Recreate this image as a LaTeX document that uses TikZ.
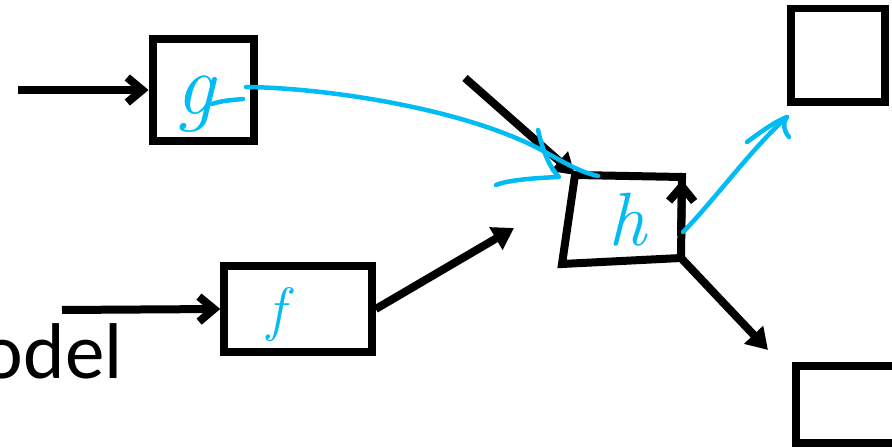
\documentclass[tikz,border=0pt]{standalone}
\usepackage{fontspec}
\usetikzlibrary{arrows.meta}
\definecolor{pen}{RGB}{0,187,244}
\newfontfamily\slidefont{Carlito}
\tikzset{
  box/.style={draw, line width=0.16cm, inner sep=0pt},
  wire/.style={line width=0.16cm},
  chev/.style={wire, -{Straight Barb[length=0.3cm, width=0.5cm]}},
  tri/.style={wire, -{Triangle[length=0.42cm, width=0.5cm]}},
  ink/.style={pen, line width=0.09cm, line cap=round, line join=round},
  letter/.style={pen, inner sep=0pt, anchor=base}
}
\begin{document}
\begin{tikzpicture}[x=0.02cm, y=-0.02cm]
\useasboundingbox (0,0) rectangle (892,448);
\clip (0,0) rectangle (892,448);
% blocks
\node[box, minimum width=2.04cm, minimum height=2.05cm] (g) at (203.5,90) {};
\node[box, minimum width=2.95cm, minimum height=1.72cm] (f) at (298,309) {};
\node[box, minimum width=1.88cm, minimum height=1.88cm] (top) at (837.5,55.5) {};
\node[box, minimum width=2.29cm, minimum height=1.55cm] (bot) at (852.75,404.25) {};
\node[font=\slidefont\fontsize{45}{45}\selectfont, anchor=base east, inner sep=0pt] (lab) at (123,379) {model};
% the skewed h block
\coordinate (h1) at (575,175);
\coordinate (h2) at (682,177);
\coordinate (h3) at (681,258);
\coordinate (h4) at (562,264);
\draw[wire, line join=miter] (h1) -- (h2) -- (h3) -- (h4) -- cycle;
% loose ends
\coordinate (gin) at (18,90);
\coordinate (fin) at (62,310);
\coordinate (fout) at (514,228);
\coordinate (hsrc) at (465,78);
\coordinate (hup) at (681,236);
\coordinate (hdown) at (768,350);
% black arrows
\draw[chev] (gin) -- (g.west);
\draw[chev] (fin) -- (f.west);
\draw[tri] (f.east) -- (fout);
\draw[tri] (hsrc) -- (h1);
\draw[chev] (hup) -- (682,180);
\draw[tri] (h3) -- (hdown);
% pen strokes
\node[letter, font=\itshape\fontsize{50}{50}\selectfont] (gl) at (195,115) {g};
\node[letter, font=\itshape\fontsize{34}{34}\selectfont] (fl) at (276,330) {f};
\node[letter, font=\itshape\fontsize{43}{43}\selectfont] (hl) at (627,246) {h};
\coordinate (gtail) at (246,87);
\coordinate (htop) at (598,176);
\coordinate (hr) at (683,232);
\coordinate (topin) at (787,117);
\draw[ink] (212,104) .. controls (222,101) .. (243,99);
\draw[ink] (gtail) .. controls (330,88) and (470,110) .. (545,152) .. controls (565,163) and (580,172) .. (htop);
\draw[ink] (538,130) .. controls (543,152) and (550,168) .. (559,177) .. controls (535,178) and (508,180) .. (496,185);
\draw[ink] (hr) .. controls (712,203) and (752,148) .. (topin);
\draw[ink] (747,142) .. controls (762,131) and (776,121) .. (topin) .. controls (782,124) and (784,131) .. (789,137);
\end{tikzpicture}
\end{document}
